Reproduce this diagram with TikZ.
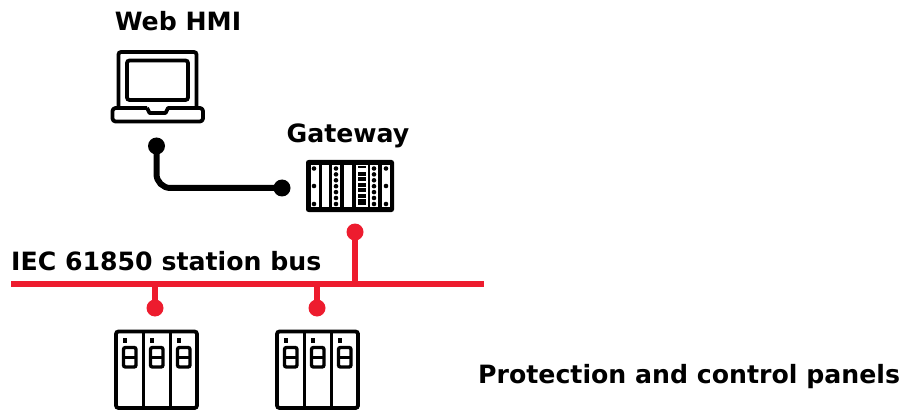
\documentclass[tikz,border=0pt]{standalone}
\usepackage{fontspec}
\setmainfont{DejaVu Sans}
\definecolor{abbred}{HTML}{ED1C2E}
\tikzset{
  lbl/.style={font=\fontsize{25.2}{30}\selectfont\bfseries, inner sep=0pt, text=black, anchor=base},
  icon/.style={draw=black, line width=3.8pt, rounded corners=2.5pt},
  dotb/.style={circle, fill=black, minimum size=17pt, inner sep=0pt},
  dotr/.style={circle, fill=abbred, minimum size=17pt, inner sep=0pt},
  wireb/.style={draw=black, line width=6pt},
  wirer/.style={draw=abbred, line width=6.5pt},
  slot/.style={fill=white, draw=none},
  pin/.style={circle, fill=black, inner sep=0pt, minimum size=4.6pt},
}
\newcommand{\panelicon}[1]{%
  \draw[icon] (#1,331.5) rectangle (#1+81,408);
  \draw[black, line width=3.4pt] (#1+27.5,331.5) -- (#1+27.5,408) (#1+54.5,331.5) -- (#1+54.5,408);
  \draw[black, line width=1pt] (#1+81,377) -- (#1+83,377);
  \foreach \o in {0,27,54}{
    \fill[black] (#1+\o+6.5,338) rectangle ++(4.5,4.5);
    \draw[black, line width=3.4pt, rounded corners=2pt] (#1+\o+7.5,347.5) rectangle (#1+\o+20,367);
    \draw[black, line width=3pt] (#1+\o+7.5,357) -- (#1+\o+20,357);
  }
}
\begin{document}
\begin{tikzpicture}[x=1pt,y=-1pt]
\useasboundingbox (0,0) rectangle (915,414);
% labels
\node[lbl] (web) at (178,31) {Web HMI};
\node[lbl] (gw) at (348,143) {Gateway};
\node[lbl, anchor=base west] (iec) at (11,270) {IEC 61850 station bus};
\node[lbl, anchor=base west] (pcp) at (478,383) {Protection and control panels};
% laptop
\draw[icon] (118.5,108) -- (118.5,52) -- (196.5,52) -- (196.5,108);
\draw[icon] (127,60.5) rectangle (188,100);
\draw[draw=black, line width=3.8pt, line join=round] (147,108) -- (149.5,113) -- (165.5,113) -- (168,108) [rounded corners=3pt] -- (203,108) -- (203,121.5) -- (112.5,121.5) -- (112.5,108) -- (147,108);
% gateway
\fill[black, rounded corners=2.5pt] (306,160) rectangle (394,212);
\foreach \a/\b in {311/318.5,322/328.5,332/340,344/352,356/367.5,370/378,382/390}
  \fill[slot] (\a,165) rectangle (\b,207);
\foreach \x in {314,386} \foreach \y in {168.5,186,204}
  \node[pin] at (\x,\y) {};
\foreach \x in {336,374} \foreach \y in {168.5,174.4,180.3,186.2,192.1,198,204}
  \node[pin] at (\x,\y) {};
\fill[black] (358,166.5) rectangle (366,168);
\foreach \y in {172,177.5,183,188.5,194,199.5} \fill[black] (358,\y) rectangle (366,\y+4);
\fill[black] (358,203.5) rectangle (366,205);
% panels
\panelicon{116}
\panelicon{277}
% black link
\node[dotb] (hmidot) at (156.5,146) {};
\node[dotb] (gwdot) at (282,188) {};
\draw[wireb, rounded corners=14pt] (hmidot.center) -- (hmidot.center |- gwdot.center) -- (gwdot.center);
% red bus
\coordinate (busl) at (11,284);
\coordinate (busr) at (484,284);
\draw[wirer] (busl) -- (busr);
\node[dotr] (gwbus) at (355,232) {};
\node[dotr] (p1) at (155,308) {};
\node[dotr] (p2) at (317,308) {};
\draw[wirer] (gwbus.center) -- (gwbus.center |- busl);
\draw[wirer] (p1.center) -- (p1.center |- busl);
\draw[wirer] (p2.center) -- (p2.center |- busl);
\end{tikzpicture}
\end{document}
